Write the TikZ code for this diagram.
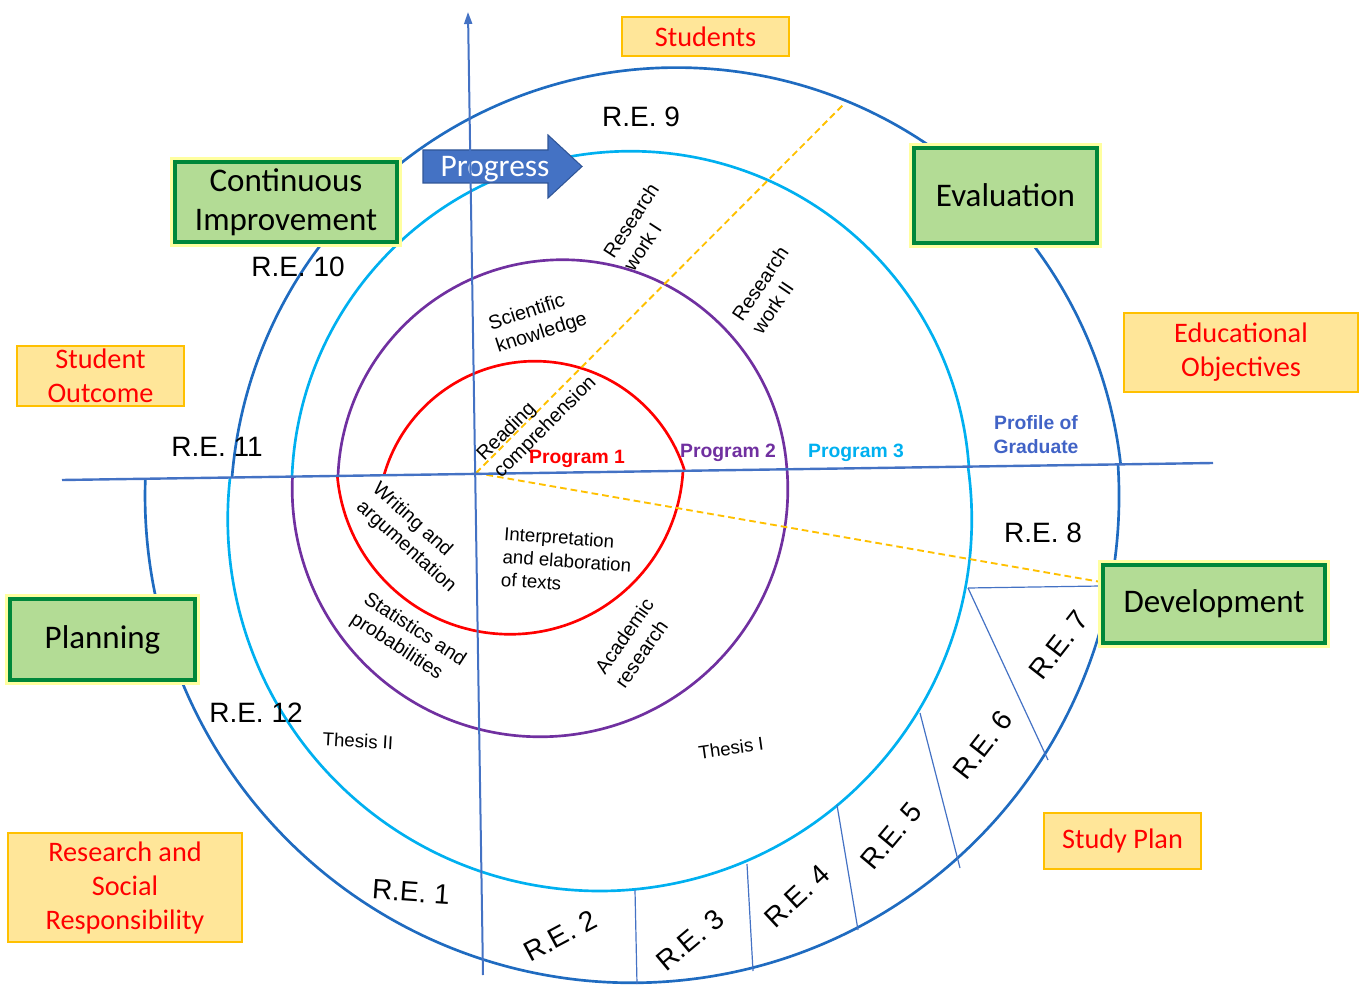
\documentclass[tikz,border=0pt]{standalone}
\usepackage{fontspec}
\setmainfont{Liberation Sans}
\newfontfamily\calib{Carlito}
\usetikzlibrary{arrows.meta}
\definecolor{cRed}{HTML}{FF0000}
\definecolor{cPurple}{HTML}{7030A0}
\definecolor{cCyan}{HTML}{00B0F0}
\definecolor{cOuter}{HTML}{1F6BC0}
\definecolor{cAxis}{HTML}{4472C4}
\definecolor{cDash}{HTML}{FFC000}
\definecolor{gFill}{HTML}{B3DC95}
\definecolor{gDraw}{HTML}{00873A}
\definecolor{gGlow}{HTML}{FFFFA0}
\definecolor{oFill}{HTML}{FFE699}
\definecolor{oDraw}{HTML}{FFC000}
\definecolor{profBlue}{HTML}{4163C6}
\definecolor{progFill}{HTML}{4472C4}
\definecolor{progDraw}{HTML}{2F5597}
\begin{document}
\begin{tikzpicture}[x=0.75pt,y=-0.75pt,
  every node/.style={inner sep=0pt, outer sep=0pt},
  spir/.style={line width=2pt},
  axisline/.style={draw=cAxis, line width=1.5pt},
  segline/.style={draw=cAxis, line width=0.9pt},
  dashline/.style={draw=cDash, line width=1.4pt, dash pattern=on 5pt off 3pt},
  greenbox/.style={draw=gDraw, line width=3pt, fill=gFill, preaction={draw=gGlow, line width=8pt}, font=\calib\fontsize{24.75}{29.25}\selectfont, align=center},
  orangebox/.style={draw=oDraw, line width=2.2pt, fill=oFill, text=cRed, font=\calib\fontsize{21.2}{25.5}\selectfont, align=center},
  relabel/.style={font=\fontsize{21}{25}\selectfont},
  inner/.style={font=\fontsize{14.8}{18}\selectfont, align=left},
  flat/.style={font=\fontsize{14}{17.25}\selectfont, align=left},
  prog/.style={font=\bfseries\fontsize{14.5}{18}\selectfont},
]
\useasboundingbox (0,0) rectangle (1365,988);

% spiral of half circles
\draw[spir, draw=cRed]    (384,475.2) arc[start angle=-164.1, end angle=-17.6, radius=157];
\draw[spir, draw=cRed]    (683,470.8) arc[start angle=3.25, end angle=175.1, radius=173.3];
\draw[spir, draw=cPurple] (338,475.9) arc[start angle=-177.8, end angle=-3.9, radius=224.8];
\draw[spir, draw=cPurple] (787,469.3) arc[start angle=-4.56, end angle=182.9, radius=247.8];
\draw[spir, draw=cCyan]   (292,476.6) arc[start angle=-177.7, end angle=-3.97, radius=339];
\draw[spir, draw=cCyan]   (968,466.6) arc[start angle=-8.1, end angle=186.4, radius=372];
\draw[spir, draw=cOuter]  (232,477.5) arc[start angle=-175.3, end angle=-6.4, radius=446.5];
\draw[spir, draw=cOuter]  (1118,464.4) arc[start angle=-3.7, end angle=182, radius=487];

% segment lines of the outer ring
\coordinate (s8a) at (968,588);   \coordinate (s8b) at (1101,586);
\coordinate (s7b) at (1048,760);
\coordinate (s6a) at (920,713);   \coordinate (s6b) at (960,868);
\coordinate (s5a) at (837,805);   \coordinate (s5b) at (858,930);
\coordinate (s4a) at (747,864);   \coordinate (s4b) at (753,971);
\coordinate (s3a) at (635,890);   \coordinate (s3b) at (637,984);
\draw[segline] (s8a) -- (s8b);
\draw[segline] (s8a) -- (s7b);
\draw[segline] (s6a) -- (s6b);
\draw[segline] (s5a) -- (s5b);
\draw[segline] (s4a) -- (s4b);
\draw[segline] (s3a) -- (s3b);

% dashed lines
\coordinate (o) at (476,473);
\coordinate (d1) at (845,103);
\coordinate (d2) at (1101,582);
\draw[dashline] (o) -- (d1);
\draw[dashline] (o) -- (d2);

% horizontal line
\coordinate (hl) at (62,480);
\coordinate (hr) at (1213,463);
\draw[axisline, line width=1.8pt] (hl) -- (hr);

% progress arrow
\draw[fill=progFill, draw=progDraw, line width=0.8pt] (423,150) -- (548,150) -- (548,135) -- (582,166.5) -- (548,198) -- (548,183) -- (423,183) -- cycle;
\node[font=\calib\fontsize{23.6}{28}\selectfont, text=white] (progress) at (495,169) {Progress};

% vertical axis
\coordinate (ab) at (483,975);
\coordinate (at) at (468,12);
\draw[axisline, -{Triangle[length=9pt,width=6pt]}] (ab) -- (at);

% boxes
\node[orangebox, minimum width=125.25pt, minimum height=29.25pt] (stu) at (705.5,36.5) {Students};
\node[greenbox, minimum width=166.5pt, minimum height=60pt] (ci) at (286,202) {Continuous\\Improvement};
\node[greenbox, minimum width=137.25pt, minimum height=71.25pt] (ev) at (1005.5,195.5) {Evaluation};
\node[orangebox, minimum width=175.5pt, minimum height=59.25pt] (eo) at (1241,352.5) {Educational\\Objectives};
\node[orangebox, minimum width=125.25pt, minimum height=45pt] (so) at (100.5,376) {Student\\Outcome};
\node[greenbox, minimum width=166.5pt, minimum height=58.5pt] (dev) at (1214,604) {Development};
\node[greenbox, minimum width=138.75pt, minimum height=60.75pt] (pl) at (102.5,639.5) {Planning};
\node[orangebox, minimum width=117.75pt, minimum height=42pt] (spl) at (1122.5,841) {Study Plan};
\node[orangebox, minimum width=175.5pt, minimum height=81.75pt] (rsr) at (125,887.5) {Research and\\Social\\Responsibility};

% R.E. labels
\node[relabel] (re9) at (641,117) {R.E. 9};
\node[relabel] (re10) at (298,267) {R.E. 10};
\node[relabel] (re11) at (217,447) {R.E. 11};
\node[relabel] (re12) at (256,713) {R.E. 12};
\node[relabel, rotate=-4] (re1) at (411,892) {R.E. 1};
\node[relabel, rotate=28] (re2) at (560,936) {R.E. 2};
\node[relabel, rotate=40] (re3) at (690,940) {R.E. 3};
\node[relabel, rotate=43] (re4) at (797,896) {R.E. 4};
\node[relabel, rotate=50] (re5) at (891,836) {R.E. 5};
\node[relabel, rotate=52] (re6) at (983,745) {R.E. 6};
\node[relabel, rotate=52] (re7) at (1059,645) {R.E. 7};
\node[relabel] (re8) at (1043,533) {R.E. 8};

% inner texts
\node[inner, rotate=45] (rc) at (537,419) {Reading\\comprehension};
\node[inner, rotate=18] (sk) at (538,322) {Scientific\\knowledge};
\node[inner, rotate=57] (rw1) at (641,227) {Research\\work I};
\node[inner, rotate=56] (rw2) at (770,290) {Research\\work II};
\node[inner, rotate=-42] (wa) at (414,538) {Writing and\\argumentation};
\node[flat, rotate=-4] (ie) at (567,561) {Interpretation\\and elaboration\\of texts};
\node[inner, rotate=-33] (stp) at (408,640) {Statistics and\\probabilities};
\node[inner, rotate=55] (ar) at (634,643) {Academic\\research};
\node[flat, rotate=-3] (t2) at (358,741) {Thesis II};
\node[flat, rotate=8] (t1) at (731,748) {Thesis I};

% program labels
\node[prog, text=cRed] (p1) at (577,459) {Program 1};
\node[prog, text=cPurple] (p2) at (728,453) {Program 2};
\node[prog, text=cCyan] (p3) at (856,453) {Program 3};
\node[prog, text=profBlue, align=center] (pg) at (1036,435) {Profile of\\Graduate};
\end{tikzpicture}
\end{document}
